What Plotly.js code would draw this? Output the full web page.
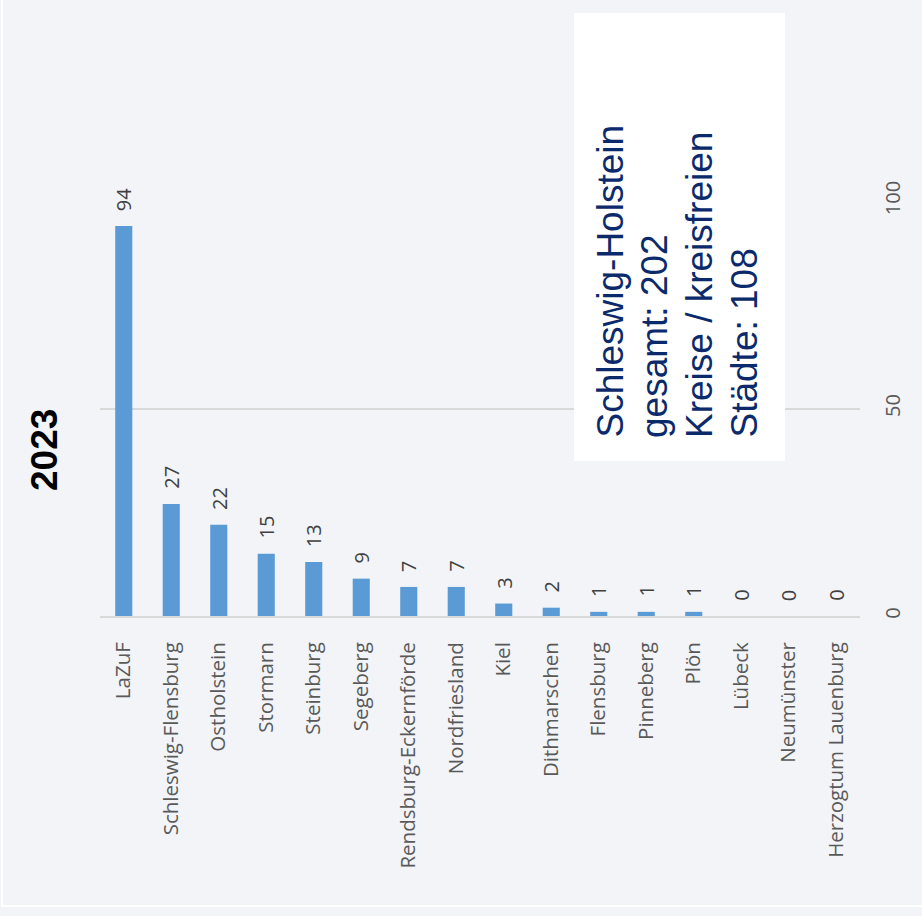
<!DOCTYPE html>
<html>
<head>
<meta charset="utf-8">
<script src="https://cdn.plot.ly/plotly-3.0.1.min.js"></script>
<style>html,body{margin:0;padding:0;background:#f2f4f8;}</style>
</head>
<body>
<div id="chart" style="width:922px;height:916px;"></div>
<script>
const categories = ["LaZuF","Schleswig-Flensburg","Ostholstein","Stormarn","Steinburg","Segeberg","Rendsburg-Eckernförde","Nordfriesland","Kiel","Dithmarschen","Flensburg","Pinneberg","Plön","Lübeck","Neumünster","Herzogtum Lauenburg"];
const values = [94,27,22,15,13,9,7,7,3,2,1,1,1,0,0,0];
const yTicks = [0,50,100];
const titleText = "2023";
const boxLines = ["Schleswig-Holstein","gesamt: 202","Kreise / kreisfreien","Städte: 108"];

const trace = {
  type: "bar",
  x: categories,
  y: values,
  marker: {color: "#5b9bd5"},
  width: 0.36,
  hoverinfo: "x+y"
};

const valueAnnotations = categories.map((c, i) => ({
  x: c, y: values[i], xref: "x", yref: "y",
  text: String(values[i]),
  showarrow: false,
  textangle: -90,
  xanchor: "center", yanchor: "bottom",
  yshift: 13,
  font: {family: "Open Sans", size: 20, color: "#404040"}
}));

const lineX = [610, 654, 699, 744];
const boxAnnotations = boxLines.map((t, i) => ({
  xref: "paper", yref: "paper",
  x: (lineX[i] - 100) / 760, y: (616 - 440) / 415,
  text: t, showarrow: false, textangle: -90,
  xanchor: "center", yanchor: "bottom",
  font: {family: "Liberation Sans, Arial", size: 37, color: "#0b2a6b"}
}));

const layout = {
  width: 922, height: 916,
  paper_bgcolor: "#f2f4f8",
  plot_bgcolor: "#f2f4f8",
  margin: {l: 100, r: 62, t: 201, b: 300},
  showlegend: false,
  xaxis: {
    type: "category",
    tickangle: -90,
    tickfont: {family: "Open Sans", size: 20.5, color: "#595959"},
    showline: true, linecolor: "#d9d9d9", linewidth: 2,
    ticks: "", showgrid: false,
    ticklabelstandoff: 16
  },
  yaxis: {
    side: "right",
    range: [0, 100],
    tickvals: yTicks,
    ticktext: yTicks.map(String),
    tickangle: -90,
    tickfont: {family: "Open Sans", size: 20, color: "#595959"},
    showgrid: true, gridcolor: "#d9d9d9", gridwidth: 2,
    zeroline: false, showline: false, ticks: "",
    ticklabelstandoff: 19
  },
  shapes: [
    {type: "rect", xref: "paper", yref: "paper", x0: 0.6237, x1: 0.9013, y0: 0.3735, y1: 1.453,
     fillcolor: "#ffffff", line: {width: 0}, layer: "above"},
    {type: "line", xref: "paper", yref: "paper", x0: -0.129, x1: -0.129, y0: -0.7, y1: 1.6,
     line: {color: "#ffffff", width: 2}},
    {type: "line", xref: "paper", yref: "paper", x0: -0.13, x1: 1.1, y0: -0.699, y1: -0.699,
     line: {color: "#ffffff", width: 2}}
  ],
  annotations: valueAnnotations.concat([
    {xref: "paper", yref: "paper", x: (44 - 100) / 760, y: (616 - 450) / 415,
     text: "<b>" + titleText + "</b>", showarrow: false, textangle: -90,
     xanchor: "center", yanchor: "middle",
     font: {family: "Liberation Sans, Arial", size: 37, color: "#000000"}}
  ]).concat(boxAnnotations)
};

Plotly.newPlot("chart", [trace], layout, {displayModeBar: false, staticPlot: true});
</script>
</body>
</html>
